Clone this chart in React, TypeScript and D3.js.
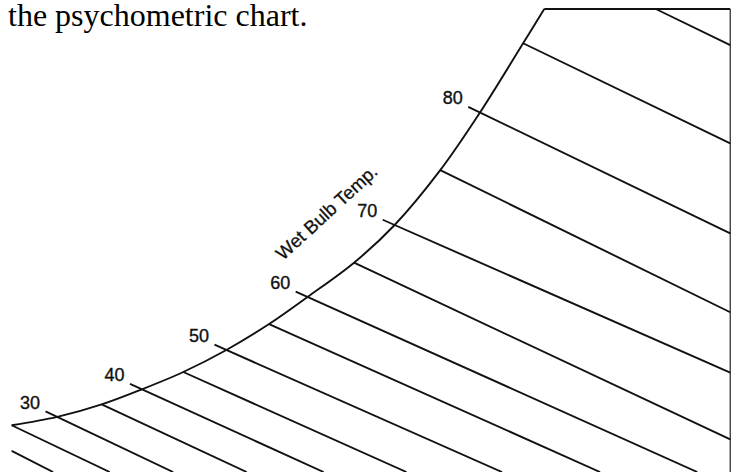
import React from "react";
import * as d3 from "d3";

// Saturation curve (dry bulb °F, grains of moisture / lb)
const satT = [24.6, 30.0, 35.25, 40.0, 44.9, 50.0, 55.05, 59.6, 65.1, 69.9, 75.3, 80.0, 85.1, 87.6];
const satW = [20.2, 23.8, 29.2, 35.7, 43.2, 52.7, 63.9, 75.6, 90.4, 106.7, 130.4, 155.3, 185.2, 200];

// Constant wet-bulb lines: start and end points
const wbTemp = [20, 25, 30, 35, 40, 45, 50, 55, 60, 65, 70, 75, 80, 85, 90];
const wbStartT = [24.6, 24.6, 30.0, 35.25, 40.0, 44.9, 50.0, 55.05, 59.6, 65.1, 69.9, 75.3, 80.0, 85.1, 100.8];
const wbStartW = [9.1, 20.2, 23.8, 29.2, 35.7, 43.2, 52.7, 63.9, 75.6, 90.4, 106.7, 130.4, 155.3, 185.2, 200];
const wbEndT = [29.5, 36.2, 43.7, 52.4, 61.5, 71.3, 82.6, 94.2, 105.7, 109.6, 109.6, 109.6, 109.6, 109.6, 109.6];
const wbEndW = [0, 0, 0, 0, 0, 0, 0, 0, 0, 14.1, 42.9, 69.0, 103.1, 142.0, 184.4];

const labeledTemps = [30, 40, 50, 60, 70, 80];

// Chart frame
const frameRightT = 109.6;
const frameTopW = 200;
const frameBottomW = 0;

const axisTitle = "Wet Bulb Temp.";
const caption = "the psychometric chart.";

export default function App() {
  const width = 739;
  const height = 472;
  const x = d3.scaleLinear().domain([30, 80]).range([57.3, 480]);
  const y = d3.scaleLinear().domain([0, 200]).range([472, 9]);

  const satPts: [number, number][] = satT.map((t, i) => [x(t), y(satW[i])]);
  const curve = d3.line().curve(d3.curveCatmullRom.alpha(0.5))(satPts) || "";

  const ink = "#111";
  const sans = "'Liberation Sans', Arial, Helvetica, sans-serif";

  const lines = wbTemp.map((wb, i) => {
    const x1 = x(wbStartT[i]);
    const y1 = y(wbStartW[i]);
    const x2 = x(wbEndT[i]);
    const y2 = y(wbEndW[i]);
    const labeled = labeledTemps.includes(wb);
    let sx = x1;
    let sy = y1;
    if (labeled) {
      const len = Math.hypot(x2 - x1, y2 - y1);
      sx = x1 - ((x2 - x1) / len) * 13;
      sy = y1 - ((y2 - y1) / len) * 13;
    }
    return { wb, x1: sx, y1: sy, x2, y2, labeled };
  });

  const rightX = x(frameRightT);
  const topY = y(frameTopW);
  const topLeftX = x(satT[satT.length - 1]);

  return (
    <svg
      width={width}
      height={height}
      style={{ position: "absolute", left: 0, top: 0, background: "#fff" }}
    >
      <text
        x={8}
        y={26}
        fontFamily="'Liberation Serif', 'Times New Roman', serif"
        fontSize={32}
        fill="#000"
      >
        {caption}
      </text>

      <path d={curve} fill="none" stroke={ink} strokeWidth={1.9} />
      <line x1={topLeftX} y1={topY} x2={rightX} y2={topY} stroke={ink} strokeWidth={2} />
      <line x1={rightX} y1={topY} x2={rightX} y2={y(frameBottomW)} stroke="#333" strokeWidth={1.3} />

      {lines.map((l) => (
        <line key={l.wb} x1={l.x1} y1={l.y1} x2={l.x2} y2={l.y2} stroke={ink} strokeWidth={1.9} />
      ))}

      {lines
        .filter((l) => l.labeled)
        .map((l) => (
          <text
            key={"t" + l.wb}
            x={l.x1 - 5.5}
            y={l.y1 - 2.8}
            textAnchor="end"
            fontFamily={sans}
            fontSize={18}
            fill={ink}
            stroke={ink}
            strokeWidth={0.35}
          >
            {l.wb}
          </text>
        ))}

      <text
        transform="translate(331,217) rotate(-42.5)"
        textAnchor="middle"
        fontFamily={sans}
        fontSize={18.5}
        fill={ink}
        stroke={ink}
        strokeWidth={0.3}
      >
        {axisTitle}
      </text>
    </svg>
  );
}
